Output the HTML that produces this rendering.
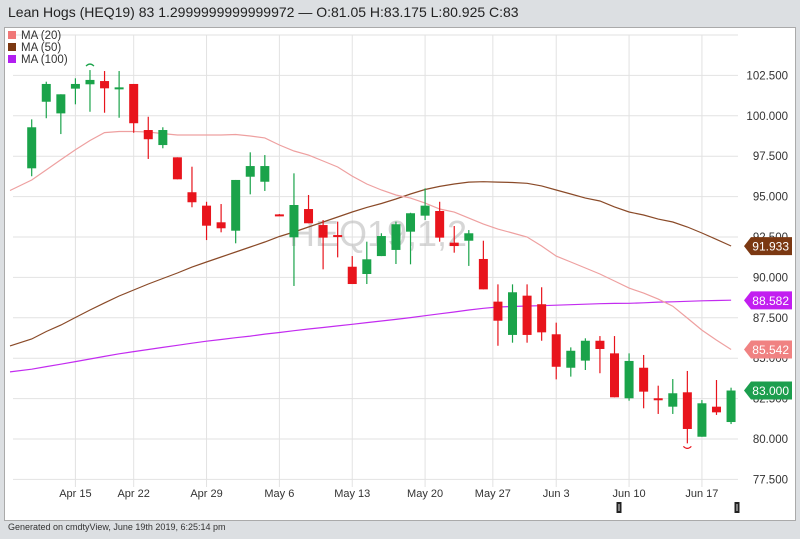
<!DOCTYPE html>
<html><head><meta charset="utf-8">
<style>
html,body{margin:0;padding:0;width:800px;height:539px;overflow:hidden;background:#dcdfe2;font-family:"Liberation Sans",sans-serif;}
#title{position:absolute;left:8px;top:4px;font-size:14px;color:#222;white-space:nowrap;}
#panel{position:absolute;left:4px;top:27px;width:790px;height:492px;background:#fff;border:1px solid #aaa;}
#footer{position:absolute;left:8px;top:522px;font-size:9px;color:#333;}
svg{position:absolute;left:0;top:0;}
</style></head><body>
<div id="title">Lean Hogs (HEQ19) 83 1.2999999999999972 — O:81.05 H:83.175 L:80.925 C:83</div>
<div id="panel"></div>
<div id="footer">Generated on cmdtyView, June 19th 2019, 6:25:14 pm</div>
<svg id="chart" width="800" height="539"></svg>
<script>
const opens=[96.75,100.87,100.15,101.68,101.95,102.15,101.74,101.97,99.12,98.19,97.43,95.27,94.44,93.41,92.89,96.23,95.92,93.9,92.48,94.23,93.24,92.62,90.66,90.21,91.32,91.7,92.83,93.82,94.11,92.15,92.27,91.14,88.5,86.44,88.87,88.34,86.48,84.41,84.85,86.08,85.3,82.52,84.41,82.52,82.0,82.89,80.14,82.0,81.05];
const closes=[99.29,101.97,101.33,101.97,102.22,101.70,101.76,99.54,98.55,99.12,96.07,94.65,93.2,93.04,96.03,96.89,96.89,93.88,94.48,93.35,92.46,92.6,89.59,91.12,92.56,93.29,93.97,94.44,92.46,91.94,92.73,89.26,87.32,89.08,86.44,86.6,84.47,85.46,86.08,85.57,82.58,84.83,82.93,82.48,82.83,80.62,82.21,81.65,83.0];
const highs=[99.78,102.11,101.33,102.32,102.83,102.77,102.77,101.97,99.94,99.29,97.43,96.85,94.68,94.54,96.03,97.74,97.57,93.92,96.44,95.1,93.55,93.45,91.32,92.21,92.73,93.45,94.0,95.51,94.68,93.18,92.93,92.27,89.57,89.57,89.57,89.39,87.2,85.67,86.23,86.37,86.37,85.3,85.2,83.3,83.71,84.21,82.41,83.65,83.175];
const lows=[96.26,99.85,98.87,100.71,100.25,100.19,99.88,98.95,97.33,97.99,96.07,94.34,92.31,92.79,92.11,95.14,95.35,93.86,89.47,93.35,90.5,91.24,89.59,89.59,91.32,90.83,90.81,93.55,92.21,91.53,90.71,89.26,85.77,85.96,85.96,86.08,83.69,83.86,84.27,84.07,82.58,82.37,81.9,81.55,81.55,79.73,80.14,81.49,80.925];
// moving averages for index -1..48
const ma20=[95.38,96.03,96.65,97.28,97.90,98.47,98.96,99.03,99.03,99.00,98.90,98.81,98.81,98.81,98.81,98.84,98.75,98.63,98.19,97.82,97.57,97.20,96.83,96.27,95.78,95.41,95.10,94.91,94.60,94.23,94.04,93.67,93.30,92.99,92.75,92.50,91.94,91.32,90.95,90.58,90.21,89.78,89.34,89.03,88.66,88.22,87.48,86.74,86.12,85.54];
const ma50=[85.76,86.19,86.65,87.05,87.52,87.98,88.42,88.85,89.22,89.59,89.93,90.27,90.64,90.95,91.26,91.57,91.88,92.19,92.53,92.81,93.12,93.43,93.74,94.05,94.33,94.57,94.85,95.16,95.44,95.63,95.78,95.90,95.92,95.90,95.87,95.82,95.66,95.41,95.16,94.91,94.73,94.36,94.05,93.86,93.61,93.43,93.12,92.75,92.35,91.94];
const ma100=[84.15,84.32,84.48,84.63,84.79,84.95,85.11,85.27,85.41,85.54,85.67,85.80,85.93,86.05,86.16,86.27,86.37,86.49,86.59,86.70,86.81,86.90,87.00,87.10,87.20,87.30,87.40,87.51,87.63,87.75,87.86,87.98,88.09,88.17,88.20,88.23,88.25,88.28,88.31,88.34,88.37,88.39,88.40,88.43,88.47,88.49,88.52,88.55,88.57,88.59];
const yTicks=[77.5,80,82.5,85,87.5,90,92.5,95,97.5,100,102.5];
const xTickLabels=["Apr 15","Apr 22","Apr 29","May 6","May 13","May 20","May 27","Jun 3","Jun 10","Jun 17"];
const xTickIdx=[3,7,12,17,22,27,31.65,36,41,46];
const lastTags=[{v:91.933,c:"#7b3812",n:"ma50-last-value"},{v:88.582,c:"#c21ef0",n:"ma100-last-value"},{v:85.542,c:"#f08282",n:"ma20-last-value"},{v:83.0,c:"#1c9e4e",n:"last-price-value"}];

const NS="http://www.w3.org/2000/svg";
const svg=document.getElementById('chart');
const X=k=>31.7+14.57*k;
const Y=v=>439-(v-80)*16.16;
function mk(t,a,p){const e=document.createElementNS(NS,t);for(const k in a)e.setAttribute(k,a[k]);(p||svg).appendChild(e);return e;}

yTicks.forEach(v=>{
  const l=mk('line',{x1:13,x2:738,y1:Y(v),y2:Y(v),stroke:'#e2e2e2','stroke-width':1});
  
  
  const t=mk('text',{x:788,y:Y(v)+4,'text-anchor':'end','font-size':11.5,fill:'#333','font-family':'Liberation Sans, sans-serif'});
  t.textContent=v.toFixed(3);
  
  
});
mk('line',{x1:13,x2:738,y1:35,y2:35,stroke:'#e2e2e2'});
xTickIdx.forEach((k,i)=>{
  const l=mk('line',{x1:X(k),x2:X(k),y1:35,y2:487,stroke:'#e2e2e2'});
  
  
  const t=mk('text',{x:X(k),y:497,'text-anchor':'middle','font-size':11,fill:'#333','font-family':'Liberation Sans, sans-serif'});
  t.textContent=xTickLabels[i];
  
  
});
const wm=mk('text',{x:378,y:246,'text-anchor':'middle','font-size':36,fill:'#bbb','fill-opacity':0.6,'font-family':'Liberation Sans, sans-serif'});
wm.textContent='HEQ19,1,2';



function maLine(arr,col,name){
  let d='';
  arr.forEach((v,i)=>{let x=X(i-1);if(i===0)x=10;d+=(i?'L':'M')+x.toFixed(1)+','+Y(v).toFixed(1);});
  const p=mk('path',{d:d,fill:'none',stroke:col,'stroke-width':1.2});
  
  
}
maLine(ma100,'#c32cf0','ma100-line');
maLine(ma50,'#8a4a28','ma50-line');
maLine(ma20,'#eea0a0','ma20-line');

opens.forEach((o,k)=>{
  const c=closes[k],up=c>=o,col=up?'#1aa34a':'#e8141c';
  const x=X(k);
  const g=mk('g',{});
  
  
  mk('line',{x1:x,x2:x,y1:Y(highs[k]),y2:Y(lows[k]),stroke:col,'stroke-width':1.2},g);
  const top=Y(Math.max(o,c)),h=Math.max(2,Math.abs(Y(o)-Y(c)));
  mk('rect',{x:x-4.5,y:top,width:9,height:h,fill:col},g);
});
mk('path',{d:`M${X(4)-4},${Y(highs[4])-4} Q${X(4)},${Y(highs[4])-8} ${X(4)+4},${Y(highs[4])-4}`,fill:'none',stroke:'#1aa34a','stroke-width':1.2});
mk('path',{d:`M${X(45)-4},${Y(lows[45])+3} Q${X(45)},${Y(lows[45])+7} ${X(45)+4},${Y(lows[45])+3}`,fill:'none',stroke:'#e8141c','stroke-width':1.2});

lastTags.forEach(t=>{
  const y=Y(t.v);
  const g=mk('g',{});
  
  
  mk('path',{d:`M744,${y} L751,${y-9} L792,${y-9} L792,${y+9} L751,${y+9} Z`,fill:t.c},g);
  const tx=mk('text',{x:789,y:y+4.5,'text-anchor':'end','font-size':12,fill:'#fff','font-family':'Liberation Sans, sans-serif'},g);
  tx.textContent=t.v.toFixed(3);
});
[619,737].forEach(x=>{
  const r=mk('rect',{x:x-2.5,y:502,width:5,height:11,fill:'#222'});
  
  
  mk('line',{x1:x,x2:x,y1:504,y2:511,stroke:'#ddd','stroke-width':1});
});
[["MA (20)","#f07878"],["MA (50)","#7b3812"],["MA (100)","#b21ef0"]].forEach((l,i)=>{
  const g=mk('g',{});
  
  
  mk('rect',{x:8,y:31+i*12,width:8,height:8,fill:l[1]},g);
  const t=mk('text',{x:21,y:39+i*12,'font-size':11.5,fill:'#333','font-family':'Liberation Sans, sans-serif'},g);
  t.textContent=l[0];
});
</script>
</body></html>
